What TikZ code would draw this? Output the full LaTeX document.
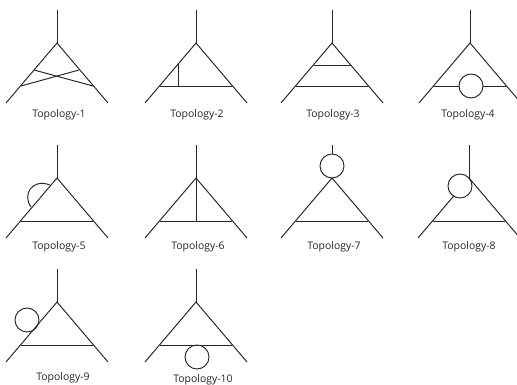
\documentclass[tikz,border=0pt]{standalone}
\usepackage{fontspec}
\setmainfont{Open Sans}
\definecolor{linegray}{HTML}{262626}

\begin{document}
\begin{tikzpicture}[
  x=0.02cm, y=-0.02cm,
  line width=0.55pt,
  wire/.style={draw=linegray},
  loopnode/.style={circle, draw=linegray, fill=white, minimum size=0.48cm, inner sep=0pt},
  toplabel/.style={font=\fontsize{5.95pt}{8pt}\selectfont, text=linegray, inner sep=0pt}
]
  \useasboundingbox (0,0) rectangle (517,385);

  % name/apex x/row offset/label x/label y
  \foreach \n/\x/\y/\lx/\ly in {1/57/0/59/115, 2/196/0/197/115, 3/332/0/333/115, 4/470/0/468/115,
      5/57/135/59/247, 6/196/135/198/247, 7/332/135/334/247, 8/469/135/469/247,
      9/57/259/63/378, 10/196/259/203/380} {
    \coordinate (top\n) at (\x,\y+10);
    \coordinate (apex\n) at (\x,\y+43);
    \coordinate (legl\n) at (\x-51,\y+103);
    \coordinate (legr\n) at (\x+51,\y+103);
    \coordinate (basel\n) at (\x-36,\y+86);
    \coordinate (baser\n) at (\x+36,\y+86);
    \node[toplabel] (label\n) at (\lx,\ly) {Topology-\n};
  }

  % crossed rungs
  \draw[wire] (top1) -- (apex1);
  \draw[wire] (legl1) -- (apex1) -- (legr1);
  \coordinate (cl1) at (34,70);
  \coordinate (cr1) at (79,70);
  \draw[wire] (cl1) -- (baser1);
  \draw[wire] (cr1) -- (basel1);

  % rung with a stub
  \draw[wire] (top2) -- (apex2);
  \draw[wire] (legl2) -- (apex2) -- (legr2);
  \draw[wire] (basel2) -- (baser2);
  \coordinate (stubt2) at (178,64);
  \coordinate (stubb2) at (178,86);
  \draw[wire] (stubt2) -- (stubb2);

  % two rungs
  \draw[wire] (top3) -- (apex3);
  \draw[wire] (legl3) -- (apex3) -- (legr3);
  \draw[wire] (basel3) -- (baser3);
  \coordinate (upl3) at (314,65);
  \coordinate (upr3) at (351,65);
  \draw[wire] (upl3) -- (upr3);

  % bubble on the base
  \draw[wire] (top4) -- (apex4);
  \draw[wire] (legl4) -- (apex4) -- (legr4);
  \node[loopnode] (bub4) at (471,86) {};
  \draw[wire] (basel4) -- (bub4);
  \draw[wire] (bub4) -- (baser4);

  % arc on the left leg
  \draw[wire] (top5) -- (apex5);
  \draw[wire] (legl5) -- (apex5) -- (legr5);
  \draw[wire] (basel5) -- (baser5);
  \coordinate (arca5) at (31,207);
  \coordinate (arcb5) at (50,185);
  \draw[wire] (arca5) .. controls (22,195) and (32,178) .. (arcb5);

  % rung to the apex
  \draw[wire] (top6) -- (apex6);
  \draw[wire] (legl6) -- (apex6) -- (legr6);
  \draw[wire] (basel6) -- (baser6);
  \coordinate (foot6) at (196,221);
  \draw[wire] (apex6) -- (foot6);

  % bubble on the top line
  \node[loopnode] (bub7) at (332,166) {};
  \draw[wire] (top7) -- (bub7);
  \draw[wire] (legl7) -- (apex7) -- (legr7);
  \draw[wire] (basel7) -- (baser7);

  % bubble on the left leg
  \draw[wire] (top8) -- (apex8);
  \draw[wire] (legl8) -- (apex8) -- (legr8);
  \draw[wire] (basel8) -- (baser8);
  \node[loopnode] (bub8) at (460,186) {};

  % bubble beside the left leg
  \draw[wire] (top9) -- (apex9);
  \draw[wire] (legl9) -- (apex9) -- (legr9);
  \draw[wire] (basel9) -- (baser9);
  \node[loopnode, fill=none] (bub9) at (27,320) {};

  % bubble under the base
  \draw[wire] (top10) -- (apex10);
  \draw[wire] (legl10) -- (apex10) -- (legr10);
  \draw[wire] (basel10) -- (baser10);
  \node[loopnode, fill=none] (bub10) at (197,357) {};
\end{tikzpicture}
\end{document}
